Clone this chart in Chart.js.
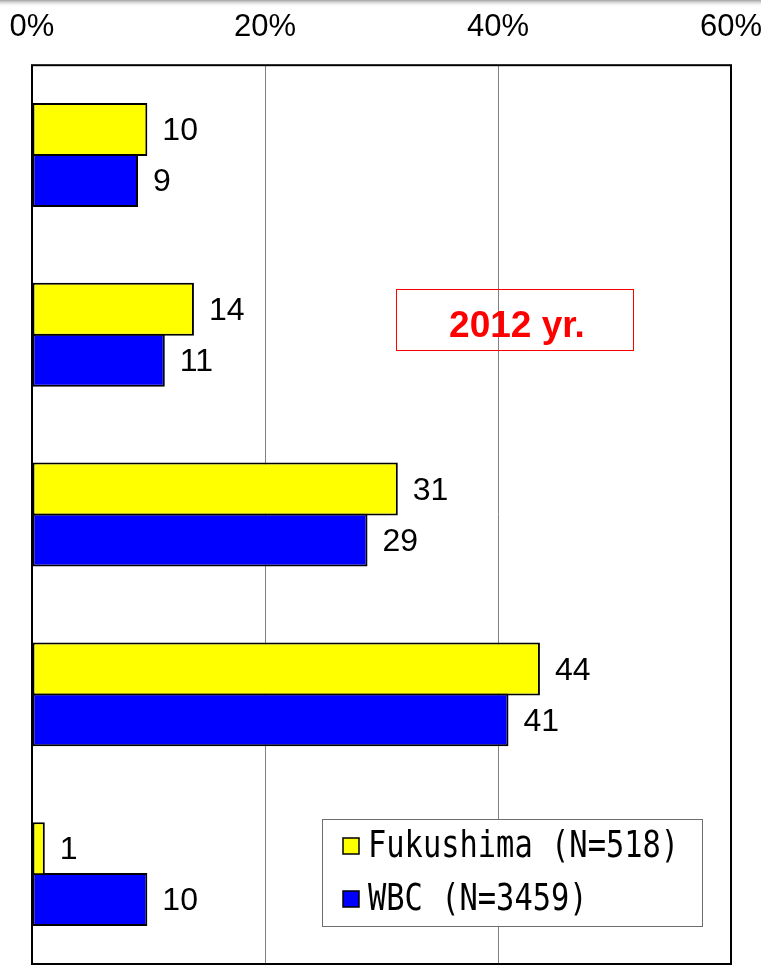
<!DOCTYPE html>
<html>
<head>
<meta charset="utf-8">
<script src="https://cdn.jsdelivr.net/npm/chart.js@4"></script>
<style>
html,body{margin:0;padding:0;background:#fff;}
#wrap{width:761px;height:968px;position:relative;}
</style>
</head>
<body>
<div id="wrap"><canvas id="c" width="761" height="968"></canvas></div>
<script>
const categories = ['Group 1', 'Group 2', 'Group 3', 'Group 4', 'Group 5'];
const fukushimaValues = [9.9, 13.9, 31.4, 43.6, 1.1];
const wbcValues = [9.1, 11.4, 28.8, 40.9, 9.9];
const seriesNames = ['Fukushima (N=518)', 'WBC (N=3459)'];
const tickValues = [0, 20, 40, 60];
const titleText = '2012 yr.';

const overlay = {
  id: 'overlay',
  beforeDraw(chart) {
    const ctx = chart.ctx;
    ctx.save();
    ctx.fillStyle = '#fff';
    ctx.fillRect(0, 0, chart.width, chart.height);
    const g = ctx.createLinearGradient(0, 0, 0, 7);
    g.addColorStop(0, 'rgba(150,150,150,0.9)');
    g.addColorStop(1, 'rgba(255,255,255,0)');
    ctx.fillStyle = g;
    ctx.fillRect(0, 0, chart.width, 7);
    ctx.restore();
  },
  afterDatasetsDraw(chart) {
    const ctx = chart.ctx;
    const a = chart.chartArea;
    ctx.save();
    // plot border
    ctx.strokeStyle = '#000';
    ctx.lineWidth = 2;
    ctx.strokeRect(a.left, a.top, a.right - a.left, a.bottom - a.top);

    // data labels
    ctx.fillStyle = '#000';
    ctx.font = '32px "Liberation Sans", Arial, sans-serif';
    ctx.textAlign = 'left';
    ctx.textBaseline = 'middle';
    chart.data.datasets.forEach((ds, di) => {
      const meta = chart.getDatasetMeta(di);
      meta.data.forEach((bar, i) => {
        ctx.fillText(String(Math.round(ds.data[i])), bar.x + 15, bar.y + 2);
      });
    });

    // title box
    ctx.strokeStyle = '#ff0000';
    ctx.lineWidth = 1;
    ctx.strokeRect(396.5, 289.5, 237, 61);
    ctx.fillStyle = '#ff0000';
    ctx.font = 'bold 37px "Liberation Sans", Arial, sans-serif';
    ctx.textAlign = 'center';
    ctx.textBaseline = 'alphabetic';
    ctx.fillText(titleText, 517, 337);

    // legend box
    ctx.fillStyle = '#fff';
    ctx.fillRect(322, 819, 380, 107);
    ctx.strokeStyle = '#6e6e6e';
    ctx.lineWidth = 1;
    ctx.strokeRect(322.5, 819.5, 380, 107);
    const rows = [857, 910];
    chart.data.datasets.forEach((ds, di) => {
      const base = rows[di];
      ctx.fillStyle = ds.backgroundColor;
      ctx.fillRect(343, base - 19, 16, 16);
      ctx.strokeStyle = '#000';
      ctx.lineWidth = 1.5;
      ctx.strokeRect(343, base - 19, 16, 16);
      ctx.save();
      ctx.translate(368, base);
      ctx.scale(0.8, 1);
      ctx.fillStyle = '#000';
      ctx.font = '38px "DejaVu Sans Mono", monospace';
      ctx.textAlign = 'left';
      ctx.textBaseline = 'alphabetic';
      ctx.fillText(ds.label, 0, 0);
      ctx.restore();
    });
    ctx.restore();
  }
};

new Chart(document.getElementById('c'), {
  type: 'bar',
  data: {
    labels: categories,
    datasets: [
      {
        label: seriesNames[0],
        data: fukushimaValues,
        backgroundColor: '#ffff00',
        borderColor: '#000',
        borderWidth: 2,
        borderSkipped: false,
        barPercentage: 1.04,
        categoryPercentage: 0.567
      },
      {
        label: seriesNames[1],
        data: wbcValues,
        backgroundColor: '#0000ff',
        borderColor: '#000',
        borderWidth: 2,
        borderSkipped: false,
        barPercentage: 1.04,
        categoryPercentage: 0.567
      }
    ]
  },
  options: {
    indexAxis: 'y',
    responsive: false,
    animation: false,
    devicePixelRatio: 1,
    layout: { padding: { left: 32, right: 30, top: -10, bottom: 4 } },
    plugins: {
      legend: { display: false },
      tooltip: { enabled: false }
    },
    scales: {
      x: {
        position: 'top',
        min: tickValues[0],
        max: tickValues[tickValues.length - 1],
        afterBuildTicks(scale) {
          scale.ticks = tickValues.map(v => ({ value: v }));
        },
        afterFit(scale) {
          scale.paddingLeft = 0;
          scale.paddingRight = 0;
        },
        ticks: {
          padding: 19,
          color: '#000',
          font: { family: '"Liberation Sans", Arial, sans-serif', size: 31 },
          callback: v => v + '%'
        },
        grid: { color: '#808080', lineWidth: 1, drawTicks: false },
        border: { display: false }
      },
      y: {
        display: false,
        grid: { display: false }
      }
    }
  },
  plugins: [overlay]
});
</script>
</body>
</html>
